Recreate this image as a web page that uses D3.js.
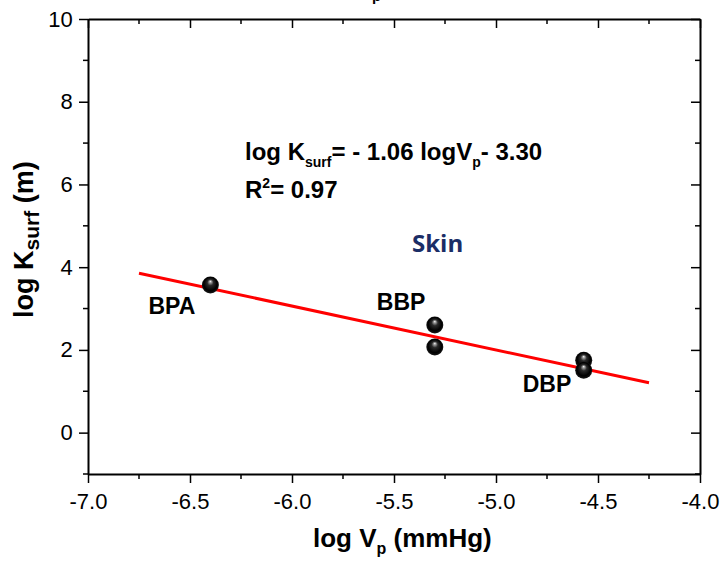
<!DOCTYPE html>
<html>
<head>
<meta charset="utf-8">
<script src="https://cdn.jsdelivr.net/npm/d3@7"></script>
<style>
  body { margin: 0; background: #fff; }
  svg { display: block; font-family: "Liberation Sans", Arial, sans-serif; }
</style>
</head>
<body>
<div id="chart"></div>
<script>
// data
const compounds = ['BPA', 'BBP', 'BBP', 'DBP', 'DBP']
const logVp = [-6.40, -5.30, -5.30, -4.57, -4.57]
const logKsurf = [3.57, 2.60, 2.07, 1.75, 1.51]
const fitX = [-6.75, -4.25]
const fitY = [3.855, 1.205]
const xTicks = [-7.0, -6.5, -6.0, -5.5, -5.0, -4.5, -4.0]
const yTicks = [0, 2, 4, 6, 8, 10]
const labels = [
  {name: 'BPA', x: -6.40, y: 3.57},
  {name: 'BBP', x: -5.30, y: 2.60},
  {name: 'DBP', x: -4.57, y: 1.51}
]

const width = 725, height = 563
const margin = {top: 19, right: 25, bottom: 89, left: 88}

const svg = d3.select('#chart').append('svg')
  .attr('width', width)
  .attr('height', height)

const x = d3.scaleLinear().domain([-7, -4]).range([margin.left, width - margin.right])
const y = d3.scaleLinear().domain([-1, 10]).range([height - margin.bottom, margin.top])

// ball gradient
let defs = svg.append('defs')
let grad = defs.append('radialGradient')
  .attr('id', 'ball')
  .attr('cx', '50%').attr('cy', '50%').attr('r', '52%')
  .attr('fx', '50%').attr('fy', '28%')
grad.append('stop').attr('offset', '0%').attr('stop-color', '#ffffff')
grad.append('stop').attr('offset', '12%').attr('stop-color', '#a0a0a0')
grad.append('stop').attr('offset', '35%').attr('stop-color', '#2a2a2a')
grad.append('stop').attr('offset', '75%').attr('stop-color', '#000000')
grad.append('stop').attr('offset', '100%').attr('stop-color', '#1a1a1a')

const minorX = [-6.75, -6.25, -5.75, -5.25, -4.75, -4.25]
const minorY = [-1, 1, 3, 5, 7, 9]
const fmt = d => d.toFixed(1)

// axes
const axBottom = svg.append('g')
  .attr('transform', 'translate(0,' + y(-1) + ')')
  .call(d3.axisBottom(x).tickValues(xTicks).tickFormat(fmt).tickSize(9).tickSizeOuter(0))
axBottom.selectAll('text').attr('dy', '1.05em')
axBottom.append('g').selectAll('line')
  .data(minorX)
  .enter().append('line')
  .attr('x1', d => x(d)).attr('x2', d => x(d))
  .attr('y1', 0).attr('y2', 5)
  .attr('stroke', '#000').attr('stroke-width', 1.5)

const axLeft = svg.append('g')
  .attr('transform', 'translate(' + margin.left + ',0)')
  .call(d3.axisLeft(y).tickValues(yTicks).tickFormat(d => String(d)).tickSize(9).tickSizeOuter(0))
axLeft.selectAll('text').attr('dx', '-0.15em')
axLeft.append('g').selectAll('line')
  .data(minorY)
  .enter().append('line')
  .attr('x1', 0).attr('x2', -5)
  .attr('y1', d => y(d)).attr('y2', d => y(d))
  .attr('stroke', '#000').attr('stroke-width', 1.5)

// top axis, inward ticks
const axTop = svg.append('g')
  .attr('transform', 'translate(0,' + margin.top + ')')
  .call(d3.axisBottom(x).tickValues(xTicks).tickFormat('').tickSize(9).tickSizeOuter(0))
axTop.append('g').selectAll('line')
  .data(minorX)
  .enter().append('line')
  .attr('x1', d => x(d)).attr('x2', d => x(d))
  .attr('y1', 0).attr('y2', 5)
  .attr('stroke', '#000').attr('stroke-width', 1.5)

// right axis, inward ticks
const axRight = svg.append('g')
  .attr('transform', 'translate(' + (width - margin.right) + ',0)')
  .call(d3.axisRight(y).tickValues(yTicks).tickFormat('').tickSize(-9).tickSizeOuter(0))
axRight.append('g').selectAll('line')
  .data(minorY)
  .enter().append('line')
  .attr('x1', 0).attr('x2', -5)
  .attr('y1', d => y(d)).attr('y2', d => y(d))
  .attr('stroke', '#000').attr('stroke-width', 1.5)

svg.selectAll('.domain').attr('stroke-width', 2)
svg.selectAll('.tick line').attr('stroke-width', 1.5)
svg.selectAll('.tick text').attr('font-size', 22).attr('fill', '#000')
  .style('font-family', '"Liberation Sans", Arial, sans-serif')

// fit line
svg.append('line')
  .attr('x1', x(fitX[0])).attr('y1', y(fitY[0]))
  .attr('x2', x(fitX[1])).attr('y2', y(fitY[1]))
  .attr('stroke', '#ff0000')
  .attr('stroke-width', 3)

// points
let pts = logVp.map(function(d, i) { return {x: d, y: logKsurf[i], name: compounds[i]} })
svg.selectAll('circle.pt')
  .data(pts)
  .enter().append('circle')
  .attr('class', 'pt')
  .attr('cx', d => x(d.x))
  .attr('cy', d => y(d.y))
  .attr('r', 8.5)
  .attr('fill', 'url(#ball)')

// compound labels
const labelOffset = {BPA: [-62, 29], BBP: [-58, -15], DBP: [-61, 22]}
svg.selectAll('text.lbl')
  .data(labels)
  .enter().append('text')
  .attr('class', 'lbl')
  .attr('x', d => x(d.x) + labelOffset[d.name][0])
  .attr('y', d => y(d.y) + labelOffset[d.name][1])
  .attr('font-size', 23)
  .attr('font-weight', 'bold')
  .text(d => d.name)

// equation
let eq = svg.append('text')
  .attr('x', 245).attr('y', 160)
  .attr('font-size', 24).attr('font-weight', 'bold')
eq.append('tspan').text('log K')
eq.append('tspan').attr('font-size', 14).attr('dy', 7).text('surf')
eq.append('tspan').attr('dy', -7).text('= - 1.06 logV')
eq.append('tspan').attr('font-size', 14).attr('dy', 7).text('p')
eq.append('tspan').attr('dy', -7).text('- 3.30')

let r2 = svg.append('text')
  .attr('x', 245).attr('y', 198)
  .attr('font-size', 24).attr('font-weight', 'bold')
r2.append('tspan').text('R')
r2.append('tspan').attr('font-size', 14).attr('dy', -10).text('2')
r2.append('tspan').attr('dy', 10).text('= 0.97')

svg.append('text')
  .attr('x', 412).attr('y', 252)
  .attr('font-size', 24).attr('font-weight', 'bold')
  .attr('fill', '#1b2d66')
  .style('font-family', '"Open Sans", sans-serif')
  .text('Skin')

// axis titles
let xt = svg.append('text')
  .attr('x', 313).attr('y', 547)
  .attr('font-size', 26).attr('font-weight', 'bold')
xt.append('tspan').text('log V')
xt.append('tspan').attr('font-size', 16).attr('dy', 7).text('p')
xt.append('tspan').attr('dy', -7).text(' (mmHg)')

let yt = svg.append('text')
  .attr('transform', 'translate(33,318) rotate(-90)')
  .attr('font-size', 27).attr('font-weight', 'bold')
yt.append('tspan').text('log K')
yt.append('tspan').attr('font-size', 21).attr('dy', 6).text('surf')
yt.append('tspan').attr('dy', -6).text(' (m)')

// clipped title remnant at the top edge
svg.append('text')
  .attr('x', 372).attr('y', 1)
  .attr('font-size', 15).attr('font-weight', 'bold')
  .text('p')
</script>
</body>
</html>
